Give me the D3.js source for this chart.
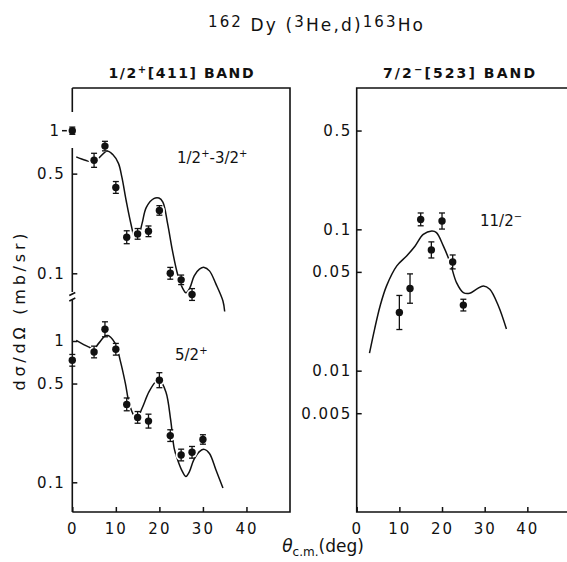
<!DOCTYPE html>
<html>
<head>
<meta charset="utf-8">
<script src="https://cdn.jsdelivr.net/npm/d3@7"></script>
<style>
  body { margin: 0; background: #fff; }
  svg { display: block; }
  text { font-family: "DejaVu Sans", sans-serif; fill: #111; }
</style>
</head>
<body>
<svg width="567" height="562"></svg>
<script>
  // ---- data ----
  const angleTicks = [0, 10, 20, 30, 40];
  const upperTicks = [0.5, 0.1];
  const lowerTicks = [1, 0.5, 0.1];
  const rightTicks = [0.5, 0.1, 0.05, 0.01, 0.005];
  const rightTickLabels = ['0.5', '0.1', '0.05', '0.01', '0.005'];

  // 1/2+ -> 3/2+ (upper left)
  const upperAngles = [0, 5, 7.5, 10, 12.5, 15, 17.5, 20, 22.5, 25, 27.5];
  const upperValues = [1.0, 0.62, 0.78, 0.40, 0.179, 0.189, 0.197, 0.276, 0.100, 0.090, 0.071];
  const upperErr = [0.06, 0.12, 0.08, 0.10, 0.11, 0.09, 0.09, 0.08, 0.10, 0.08, 0.10];
  const upperCurveAngles = [0.9, 3, 4.5, 6, 8, 9.3, 10.6, 11.4, 12.4, 13.5, 14.3, 15, 16, 17, 18.7, 19.9, 20.8, 21.9, 23, 24.2, 25.3, 26.1, 27, 28, 29.2, 30.3, 31.5, 33, 34.6, 35];
  const upperCurveValues = [0.655, 0.62, 0.605, 0.64, 0.72, 0.68, 0.59, 0.47, 0.32, 0.22, 0.18, 0.175, 0.222, 0.29, 0.334, 0.337, 0.316, 0.222, 0.144, 0.098, 0.079, 0.073, 0.079, 0.096, 0.107, 0.110, 0.104, 0.084, 0.064, 0.054];

  // 5/2+ (lower left)
  const lowerAngles = [0, 5, 7.5, 10, 12.5, 15, 17.5, 20, 22.5, 25, 27.5, 30];
  const lowerValues = [0.73, 0.836, 1.21, 0.874, 0.356, 0.288, 0.271, 0.528, 0.214, 0.156, 0.163, 0.201];
  const lowerErr = [0.10, 0.10, 0.13, 0.10, 0.11, 0.10, 0.12, 0.13, 0.10, 0.10, 0.10, 0.08];
  const lowerCurveAngles = [0.9, 3.7, 5, 6, 7.95, 9.9, 11, 12.2, 13, 14.1, 15, 16, 17.6, 19.1, 20, 21.5, 22.6, 23.4, 24.2, 25.3, 26.1, 26.9, 27.9, 29.2, 30.3, 31.5, 33, 34.6];
  const lowerCurveValues = [1.01, 0.908, 0.88, 0.958, 1.097, 0.958, 0.73, 0.50, 0.37, 0.30, 0.29, 0.333, 0.436, 0.513, 0.53, 0.436, 0.275, 0.174, 0.144, 0.119, 0.110, 0.119, 0.144, 0.165, 0.171, 0.16, 0.122, 0.091];

  // 11/2- (right)
  const rightAngles = [10, 12.5, 15, 17.5, 20, 22.5, 25];
  const rightValues = [0.0258, 0.0381, 0.1176, 0.0715, 0.1145, 0.0588, 0.0291];
  const rightErr = [0.32, 0.27, 0.11, 0.14, 0.14, 0.12, 0.10];
  const rightCurveAngles = [3, 4.2, 5.5, 7, 9.4, 11.7, 13.7, 15.6, 17.6, 18.7, 20.3, 21.9, 23.4, 25, 26.5, 28.1, 29.7, 31.2, 33.2, 35.1];
  const rightCurveValues = [0.0133, 0.0197, 0.0288, 0.0398, 0.0551, 0.0648, 0.0763, 0.092, 0.0973, 0.0948, 0.0763, 0.0582, 0.042, 0.0357, 0.0353, 0.0377, 0.0398, 0.0377, 0.0288, 0.0197];

  // ---- layout ----
  const svg = d3.select('svg');
  const frameTop = 88, frameBottom = 512;

  const xLeft = d3.scaleLinear().domain([0, 50]).range([72.3, 290]);
  const xRight = d3.scaleLinear().domain([0, 50]).range([356.7, 570]);
  const yUpper = d3.scaleLog().domain([0.1, 1]).range([273.3, 130.7]);
  const yLower = d3.scaleLog().domain([0.1, 1]).range([482.3, 341]);
  const yRight = d3.scaleLog().domain([0.001, 1]).range([frameBottom, frameTop]);

  const ink = '#111';

  // frames
  const frame = svg.append('g').attr('fill', 'none').attr('stroke', ink).attr('stroke-width', 1.6);
  frame.append('path').attr('d', `M${xLeft(0)},${frameTop}H${xLeft(50)}V${frameBottom}H${xLeft(0)}`);
  // left axis pieces (broken)
  [[frameTop, 112], [148, 292], [300, frameBottom]].forEach(([a, b]) => {
    frame.append('line').attr('x1', xLeft(0)).attr('x2', xLeft(0)).attr('y1', a).attr('y2', b);
  });
  frame.append('line').attr('x1', xLeft(0) - 3).attr('x2', xLeft(0) + 3).attr('y1', 295.5).attr('y2', 292.5);
  frame.append('line').attr('x1', xLeft(0) - 3).attr('x2', xLeft(0) + 3).attr('y1', 301).attr('y2', 298);
  frame.append('path').attr('d', `M${xRight(50)},${frameTop}H${xRight(0)}V${frameBottom}H${xRight(50)}`);

  // x axes
  function xAxis(scale) {
    const g = svg.append('g')
      .attr('transform', `translate(0,${frameBottom})`)
      .call(d3.axisBottom(scale).tickValues(angleTicks).tickSizeInner(-5).tickSizeOuter(0).tickPadding(11));
    g.select('.domain').remove();
    g.selectAll('line').attr('stroke', ink).attr('stroke-width', 1.5);
    g.selectAll('text').attr('font-size', 15).attr('letter-spacing', 2);
    g.attr('font-family', null).attr('font-size', null);
  }
  xAxis(xLeft);
  xAxis(xRight);

  // y axes
  function yAxis(scale, x, ticks, labels, pad) {
    const axis = d3.axisLeft(scale).tickValues(ticks).tickSizeInner(-5).tickSizeOuter(0).tickPadding(pad);
    if (labels) axis.tickFormat((d, i) => labels[i]);
    else axis.tickFormat(d => String(d));
    const g = svg.append('g').attr('transform', `translate(${x},0)`).call(axis);
    g.select('.domain').remove();
    g.selectAll('line').attr('stroke', ink).attr('stroke-width', 1.5);
    g.selectAll('text').attr('font-size', 15).attr('letter-spacing', 1.5);
    g.attr('font-family', null).attr('font-size', null);
  }
  yAxis(yUpper, xLeft(0), upperTicks, null, 7);
  yAxis(yLower, xLeft(0), lowerTicks, null, 7);
  yAxis(yRight, xRight(0), rightTicks, rightTickLabels, 5);

  // the "1 -" on the upper part sits outside the axis
  svg.append('line').attr('x1', 62).attr('x2', 68)
    .attr('y1', yUpper(1)).attr('y2', yUpper(1))
    .attr('stroke', ink).attr('stroke-width', 1.5);
  svg.append('text').attr('x', 59).attr('y', yUpper(1)).attr('dy', '0.36em')
    .attr('text-anchor', 'end').attr('font-size', 15).text('1');

  // curves
  const line = (x, y) => d3.line().x(d => x(d[0])).y(d => y(d[1])).curve(d3.curveCatmullRom);
  function curve(x, y, angles, values) {
    svg.append('path')
      .datum(d3.zip(angles, values))
      .attr('d', line(x, y))
      .attr('fill', 'none').attr('stroke', ink).attr('stroke-width', 1.5);
  }
  curve(xLeft, yUpper, upperCurveAngles, upperCurveValues);
  curve(xLeft, yLower, lowerCurveAngles, lowerCurveValues);
  curve(xRight, yRight, rightCurveAngles, rightCurveValues);

  // points with error bars
  function points(x, y, angles, values, errs) {
    const g = svg.append('g').selectAll('g')
      .data(d3.zip(angles, values, errs))
      .join('g');
    const hi = d => y(d[1] * (1 + d[2]));
    const lo = d => y(d[1] / (1 + d[2]));
    g.append('circle')
      .attr('cx', d => x(d[0])).attr('cy', d => y(d[1])).attr('r', 5.5)
      .attr('fill', '#fff');
    g.append('line')
      .attr('x1', d => x(d[0])).attr('x2', d => x(d[0]))
      .attr('y1', hi).attr('y2', lo)
      .attr('stroke', ink).attr('stroke-width', 1.3);
    [hi, lo].forEach(f => {
      g.append('line')
        .attr('x1', d => x(d[0]) - 3).attr('x2', d => x(d[0]) + 3)
        .attr('y1', f).attr('y2', f)
        .attr('stroke', ink).attr('stroke-width', 1.3);
    });
    g.append('circle')
      .attr('cx', d => x(d[0])).attr('cy', d => y(d[1])).attr('r', 3.7)
      .attr('fill', ink);
  }
  points(xLeft, yUpper, upperAngles, upperValues, upperErr);
  points(xLeft, yLower, lowerAngles, lowerValues, lowerErr);
  points(xRight, yRight, rightAngles, rightValues, rightErr);

  // title
  const title = svg.append('text').attr('x', 208).attr('y', 31).attr('font-size', 17)
    .attr('textLength', 215).attr('lengthAdjust', 'spacing');
  title.append('tspan').attr('font-size', 15).attr('dy', -4).text('162');
  title.append('tspan').attr('dy', 4).text(' Dy (');
  title.append('tspan').attr('font-size', 15).attr('dy', -4).text('3');
  title.append('tspan').attr('dy', 4).text('He,d)');
  title.append('tspan').attr('font-size', 15).attr('dy', -4).text('163');
  title.append('tspan').attr('dy', 4).text('Ho');

  // band titles
  function band(cx, width, spin, sign, rest) {
    const t = svg.append('text').attr('x', cx).attr('y', 78).attr('text-anchor', 'middle')
      .attr('font-size', 14).attr('font-weight', 'bold')
      .attr('textLength', width).attr('lengthAdjust', 'spacing');
    t.append('tspan').text(spin);
    t.append('tspan').attr('font-size', 10).attr('dy', -5).text(sign);
    t.append('tspan').attr('dy', 5).text(rest);
  }
  band(181, 145, '1/2', '+', '[411] BAND');
  band(459, 152, '7/2', '\u2212', '[523] BAND');

  // level labels
  function level(x, y, parts) {
    const t = svg.append('text').attr('x', x).attr('y', y).attr('font-size', 15);
    let raised = false;
    parts.forEach(([s, sup]) => {
      const dy = sup ? (raised ? 0 : -6) : (raised ? 6 : 0);
      raised = sup;
      t.append('tspan').attr('font-size', sup ? 10 : 15).attr('dy', dy).text(s);
    });
  }
  level(177, 163, [['1/2', false], ['+', true], ['-3/2', false], ['+', true]]);
  level(175, 360, [['5/2', false], ['+', true]]);
  level(480, 226, [['11/2', false], ['\u2212', true]]);

  // axis titles
  svg.append('text')
    .attr('transform', 'translate(25,312) rotate(-90)')
    .attr('text-anchor', 'middle').attr('font-size', 16)
    .attr('textLength', 157).attr('lengthAdjust', 'spacing')
    .text('d\u03c3/d\u03a9  (mb/sr)');

  const xt = svg.append('text').attr('x', 323).attr('y', 552).attr('text-anchor', 'middle').attr('font-size', 17);
  xt.append('tspan').attr('font-style', 'italic').text('\u03b8');
  xt.append('tspan').attr('font-size', 12).attr('dy', 4).text('c.m.');
  xt.append('tspan').attr('dy', -4).text('(deg)');
</script>
</body>
</html>
